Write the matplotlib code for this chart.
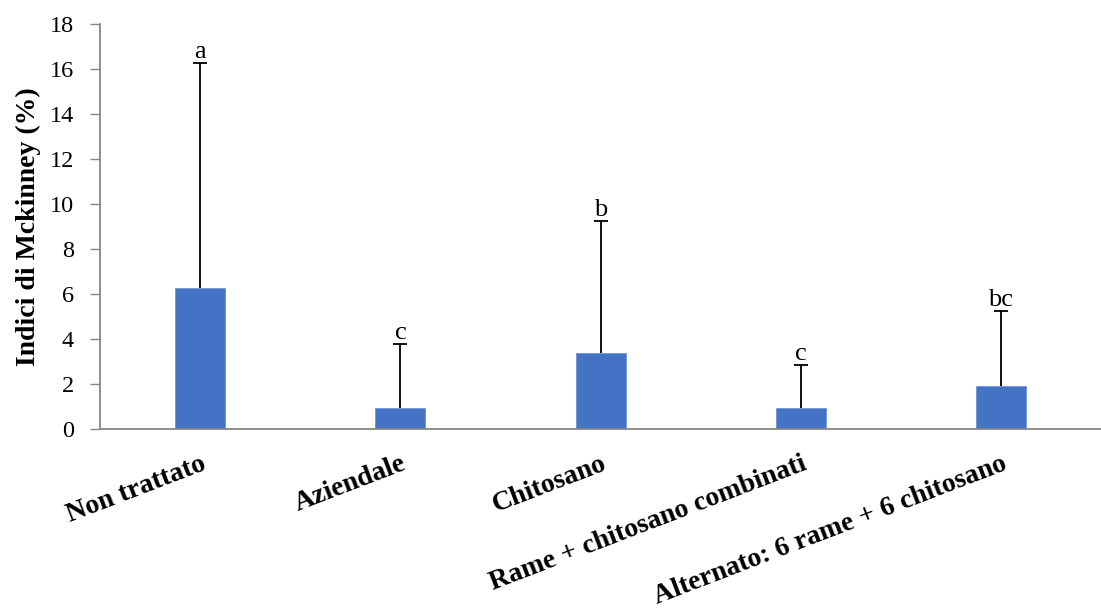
import matplotlib
matplotlib.use('Agg')
import matplotlib.pyplot as plt

plt.rcParams['font.family'] = ['Liberation Serif', 'DejaVu Serif']

# ── Data ────────────────────────────────────────────────────
categories = ['Non trattato', 'Aziendale', 'Chitosano',
              'Rame + chitosano combinati', 'Alternato: 6 rame + 6 chitosano']
means  = [6.28, 0.92, 3.37, 0.93, 1.92]
errors = [10.0, 2.85, 5.9, 1.93, 3.34]
letters = ['a', 'c', 'b', 'c', 'bc']

BAR_COLOR  = '#4472C4'
AXIS_COLOR = '#868686'

fig = plt.figure(figsize=(11.01, 6.11), dpi=100)
ax = fig.add_axes([0.091, 0.298, 0.909, 0.662])

x = range(len(categories))
bars = ax.bar(x, means, width=0.25, color=BAR_COLOR, edgecolor='#6f93d6', linewidth=0.6,
              yerr=[[0] * len(errors), errors],
              error_kw=dict(ecolor='black', elinewidth=1.3, capsize=5, capthick=1.3))
# only the upper whisker gets a cap
caplines = bars.errorbar.lines[1]
caplines[0].set_visible(False)

for xi, m, e, lab in zip(x, means, errors, letters):
    ax.text(xi, m + e + 0.22, lab, ha='center', va='baseline', fontsize=19)

ax.set_xlim(-0.5, len(categories) - 0.5)
ax.set_ylim(0, 18)
ax.set_yticks(range(0, 19, 2))
ax.tick_params(axis='y', labelsize=17.5, length=7, color=AXIS_COLOR, width=1, pad=12)
ax.tick_params(axis='x', length=0, pad=16)
ax.set_xticks(list(x))
ax.set_xticklabels(categories, rotation=21, ha='right', rotation_mode='anchor',
                   fontsize=20, fontweight='bold')

for s in ['top', 'right']:
    ax.spines[s].set_visible(False)
for s in ['left', 'bottom']:
    ax.spines[s].set_color(AXIS_COLOR)
    ax.spines[s].set_linewidth(1.3)

ax.set_ylabel('Indici di Mckinney (%)', fontsize=20, fontweight='bold', labelpad=6)

fig.savefig('out.png', dpi=100)
